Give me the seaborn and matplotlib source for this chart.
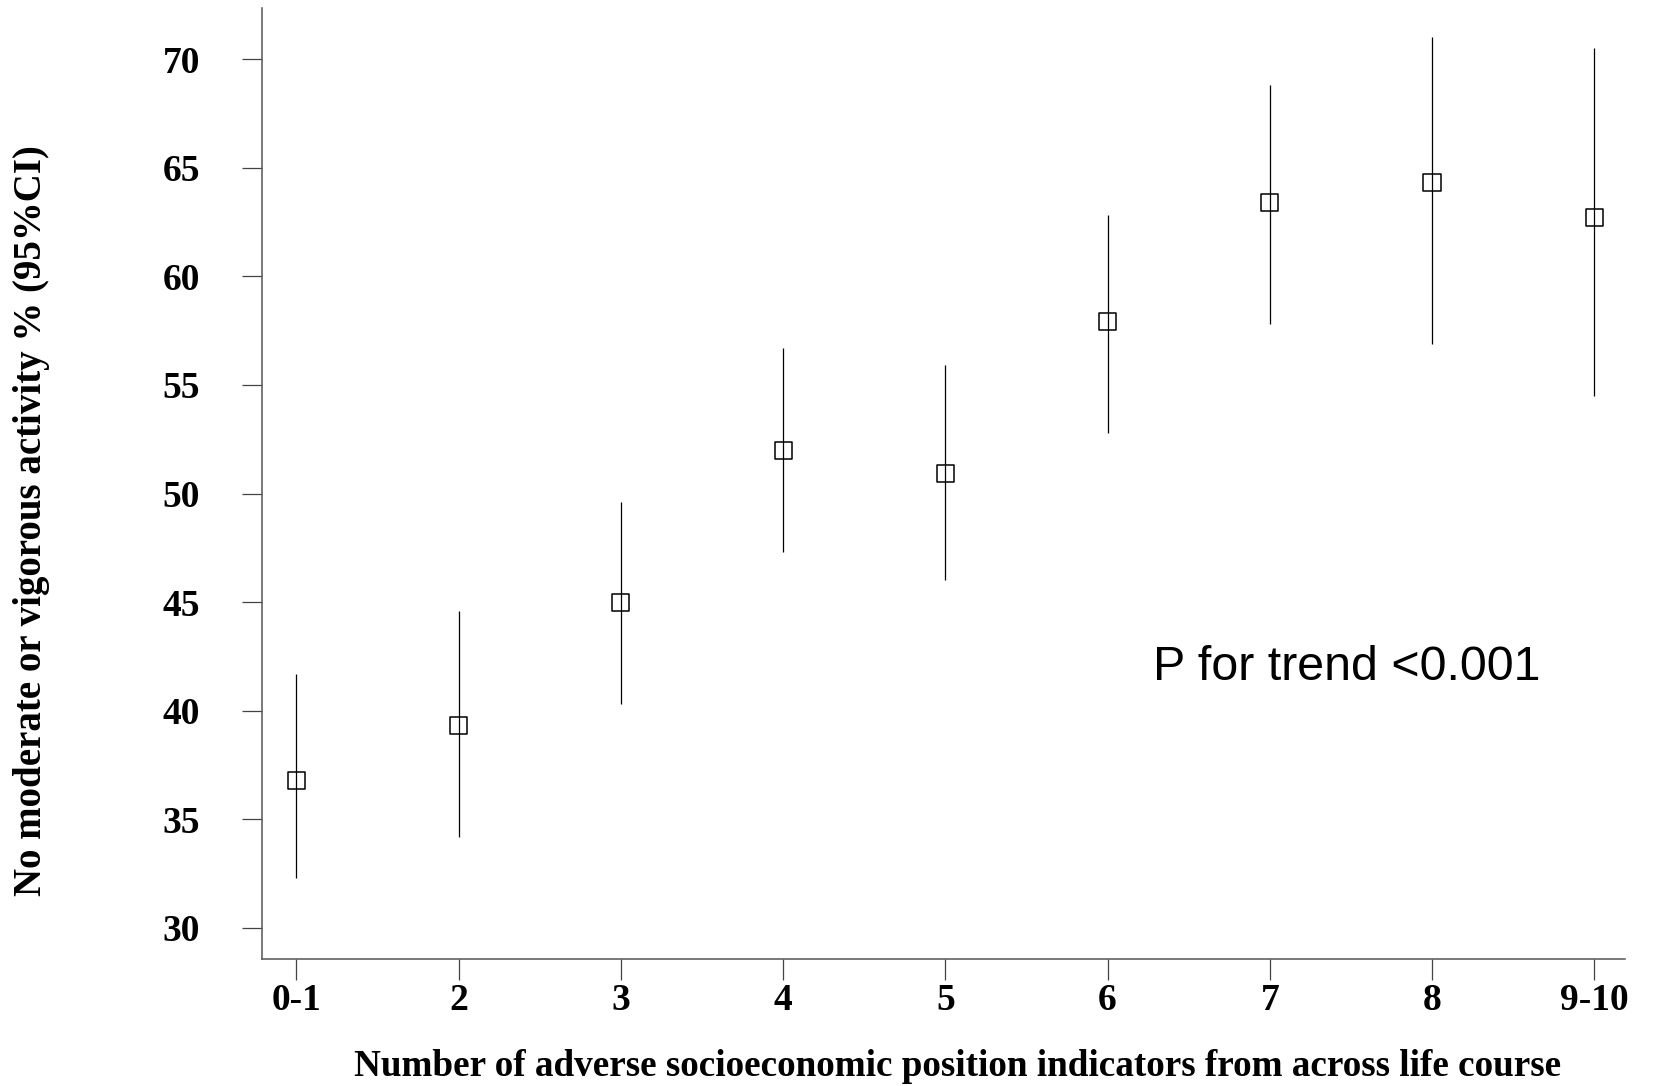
import matplotlib
matplotlib.use("Agg")
import matplotlib.pyplot as plt
import seaborn as sns
import pandas as pd

# Number of adverse socioeconomic position indicators (grouped)
categories = ["0-1", "2", "3", "4", "5", "6", "7", "8", "9-10"]
# Prevalence of no moderate or vigorous activity (%) with 95% CI
prevalence = [36.8, 39.3, 45.0, 52.0, 50.9, 57.9, 63.4, 64.3, 62.7]
ci_lower = [32.3, 34.2, 40.3, 47.3, 46.0, 52.8, 57.8, 56.9, 54.5]
ci_upper = [41.7, 44.6, 49.6, 56.7, 55.9, 62.8, 68.8, 71.0, 70.5]
y_ticks = [30, 35, 40, 45, 50, 55, 60, 65, 70]

df = pd.DataFrame({
    "pos": range(len(categories)),
    "category": categories,
    "prevalence": prevalence,
    "lo": ci_lower,
    "hi": ci_upper,
})

sns.set_theme(style="ticks")
plt.rcParams["font.family"] = ["Liberation Serif", "DejaVu Serif"]
plt.rcParams["text.color"] = "black"
plt.rcParams["xtick.labelcolor"] = "black"
plt.rcParams["ytick.labelcolor"] = "black"

fig = plt.figure(figsize=(16.54, 10.86), dpi=100)
ax = fig.add_axes([0.1582, 0.1169, 0.8243, 0.8757])

# 95% confidence intervals
ax.vlines(df["pos"], df["lo"], df["hi"], color="black", linewidth=0.9, zorder=2)

# Point estimates as open squares
sns.scatterplot(data=df, x="pos", y="prevalence", marker="s", s=150,
                facecolor="none", edgecolor="black", linewidth=1.1,
                ax=ax, zorder=3, legend=False)

ax.set_xlim(-0.214, 8.19)
ax.set_ylim(28.57, 72.35)
ax.set_xticks(df["pos"])
ax.set_xticklabels(categories)
ax.set_yticks(y_ticks)
ax.set_yticklabels([str(v) for v in y_ticks])

for side in ("top", "right"):
    ax.spines[side].set_visible(False)
for side in ("left", "bottom"):
    ax.spines[side].set_color("#555555")
    ax.spines[side].set_linewidth(1.1)

ax.tick_params(axis="y", length=14.5, width=0.9, color="#444444", pad=30,
               labelsize=27, labelcolor="black")
ax.tick_params(axis="x", length=15, width=0.9, color="#444444", pad=2,
               labelsize=27, labelcolor="black")
for lab in ax.get_xticklabels() + ax.get_yticklabels():
    lab.set_fontweight("bold")

ax.set_xlabel("")
ax.set_ylabel("")
fig.text(0.019, 0.521, "No moderate or vigorous activity % (95%CI)",
         rotation=90, ha="center", va="center", fontsize=28,
         fontweight="bold", color="black")
fig.text(0.5787, 0.0175, "Number of adverse socioeconomic position indicators from across life course",
         ha="center", va="center", fontsize=26.7, fontweight="bold",
         color="black")

ax.text(5.28, 42.0, "P for trend <0.001", ha="left", va="center",
        fontsize=34.8, family=["Liberation Sans", "DejaVu Sans"], color="black")

fig.savefig("out.png", dpi=100, facecolor="white")
